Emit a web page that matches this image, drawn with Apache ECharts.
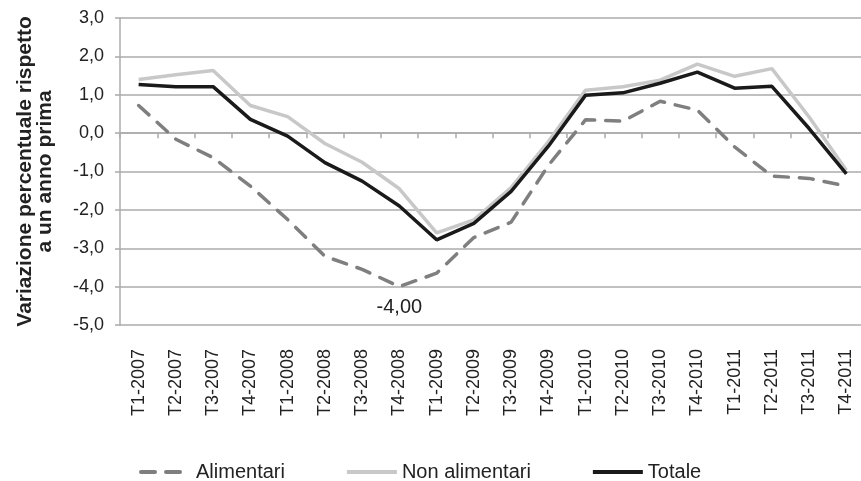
<!DOCTYPE html>
<html>
<head>
<meta charset="utf-8">
<script src="https://cdn.jsdelivr.net/npm/echarts@6/dist/echarts.min.js"></script>
<style>
  html, body { margin: 0; padding: 0; background: #ffffff; }
  #chart { width: 861px; height: 481px; }
</style>
</head>
<body>
<div id="chart"></div>
<script>
// Quarterly year-on-year change (%) of retail sales
const quarters = [
  'T1-2007', 'T2-2007', 'T3-2007', 'T4-2007',
  'T1-2008', 'T2-2008', 'T3-2008', 'T4-2008',
  'T1-2009', 'T2-2009', 'T3-2009', 'T4-2009',
  'T1-2010', 'T2-2010', 'T3-2010', 'T4-2010',
  'T1-2011', 'T2-2011', 'T3-2011', 'T4-2011'
];
const alimentari = [0.72, -0.16, -0.64, -1.38, -2.25, -3.21, -3.55, -4.00, -3.65, -2.72,
                    -2.32, -0.84, 0.35, 0.31, 0.83, 0.60, -0.36, -1.12, -1.18, -1.38];
const nonAlimentari = [1.40, 1.52, 1.63, 0.72, 0.43, -0.27, -0.76, -1.45, -2.60, -2.26,
                       -1.42, -0.22, 1.12, 1.21, 1.38, 1.80, 1.48, 1.68, 0.42, -0.97];
const totale = [1.27, 1.21, 1.21, 0.36, -0.08, -0.77, -1.25, -1.90, -2.78, -2.35,
                -1.52, -0.34, 0.99, 1.05, 1.30, 1.59, 1.17, 1.22, 0.12, -1.06];
const yTicks = { min: -5, max: 3, step: 1 };

const FONT = '"Liberation Sans", Arial, sans-serif';
const TEXT = '#222222';
const GRID_GRAY = '#ababab';

const fmt = (v, d) => v.toFixed(d).replace('.', ',');

// mark the lowest point of the food series with its value
const minIdx = alimentari.indexOf(Math.min(...alimentari));
const alimentariData = alimentari.map((v, i) => i === minIdx
  ? { value: v, label: { show: true } }
  : v);

const chart = echarts.init(document.getElementById('chart'), null, { renderer: 'canvas' });

chart.setOption({
  animation: false,
  backgroundColor: '#ffffff',
  textStyle: { fontFamily: FONT, color: TEXT },
  grid: { left: 120, right: -4, top: 18, bottom: 156, containLabel: false, outerBoundsMode: 'none' },
  legend: {
    left: 134,
    top: 457,
    itemWidth: 50,
    itemHeight: 18,
    itemGap: 60,
    itemStyle: { opacity: 0 },
    lineStyle: { width: 4 },
    textStyle: { fontFamily: FONT, fontSize: 20, color: TEXT },
    data: ['Alimentari', 'Non alimentari', 'Totale']
  },
  xAxis: [
    {
      type: 'category',
      data: quarters,
      position: 'bottom',
      boundaryGap: true,
      axisLine: { show: false, onZero: false },
      axisTick: { show: false },
      axisLabel: {
        rotate: 90,
        margin: 24,
        fontFamily: FONT,
        fontSize: 18,
        color: TEXT,
        interval: 0
      },
      splitLine: { show: false }
    },
    {
      type: 'category',
      data: quarters,
      position: 'top',
      boundaryGap: true,
      axisLine: { show: true, onZero: true, lineStyle: { color: GRID_GRAY, width: 1.5 } },
      axisTick: { show: true, inside: true, length: 5, interval: 0, lineStyle: { color: GRID_GRAY, width: 1.5 } },
      axisLabel: { show: false },
      splitLine: { show: false }
    }
  ],
  yAxis: {
    type: 'value',
    min: yTicks.min,
    max: yTicks.max,
    interval: yTicks.step,
    name: 'Variazione percentuale rispetto\na un anno prima',
    nameLocation: 'middle',
    nameRotate: 90,
    nameGap: 65,
    nameTextStyle: {
      fontFamily: FONT,
      fontSize: 21,
      fontWeight: 'bold',
      color: TEXT,
      lineHeight: 20,
      align: 'center'
    },
    axisLine: { show: true, lineStyle: { color: GRID_GRAY, width: 1.5 } },
    axisTick: { show: true, length: 5, lineStyle: { color: GRID_GRAY, width: 1.5 } },
    axisLabel: {
      margin: 16,
      fontFamily: FONT,
      fontSize: 18,
      color: TEXT,
      formatter: v => fmt(v, 1)
    },
    splitLine: { show: true, lineStyle: { color: GRID_GRAY, width: 1.5 } }
  },
  series: [
    {
      name: 'Alimentari',
      type: 'line',
      data: alimentariData,
      symbol: 'circle',
      symbolSize: 0,
      showSymbol: true,
      color: '#7f7f7f',
      lineStyle: { color: '#7f7f7f', width: 3.5, type: [14, 11], cap: 'round' },
      label: {
        show: false,
        position: 'bottom',
        distance: 11,
        fontFamily: FONT,
        fontSize: 20,
        color: TEXT,
        formatter: p => fmt(p.value, 2)
      },
      z: 2
    },
    {
      name: 'Non alimentari',
      type: 'line',
      data: nonAlimentari,
      symbol: 'none',
      color: '#c8c8c8',
      lineStyle: { color: '#c8c8c8', width: 3.5 },
      z: 3
    },
    {
      name: 'Totale',
      type: 'line',
      data: totale,
      symbol: 'none',
      color: '#1a1a1a',
      lineStyle: { color: '#1a1a1a', width: 3.5 },
      z: 4
    }
  ]
});
</script>
</body>
</html>
